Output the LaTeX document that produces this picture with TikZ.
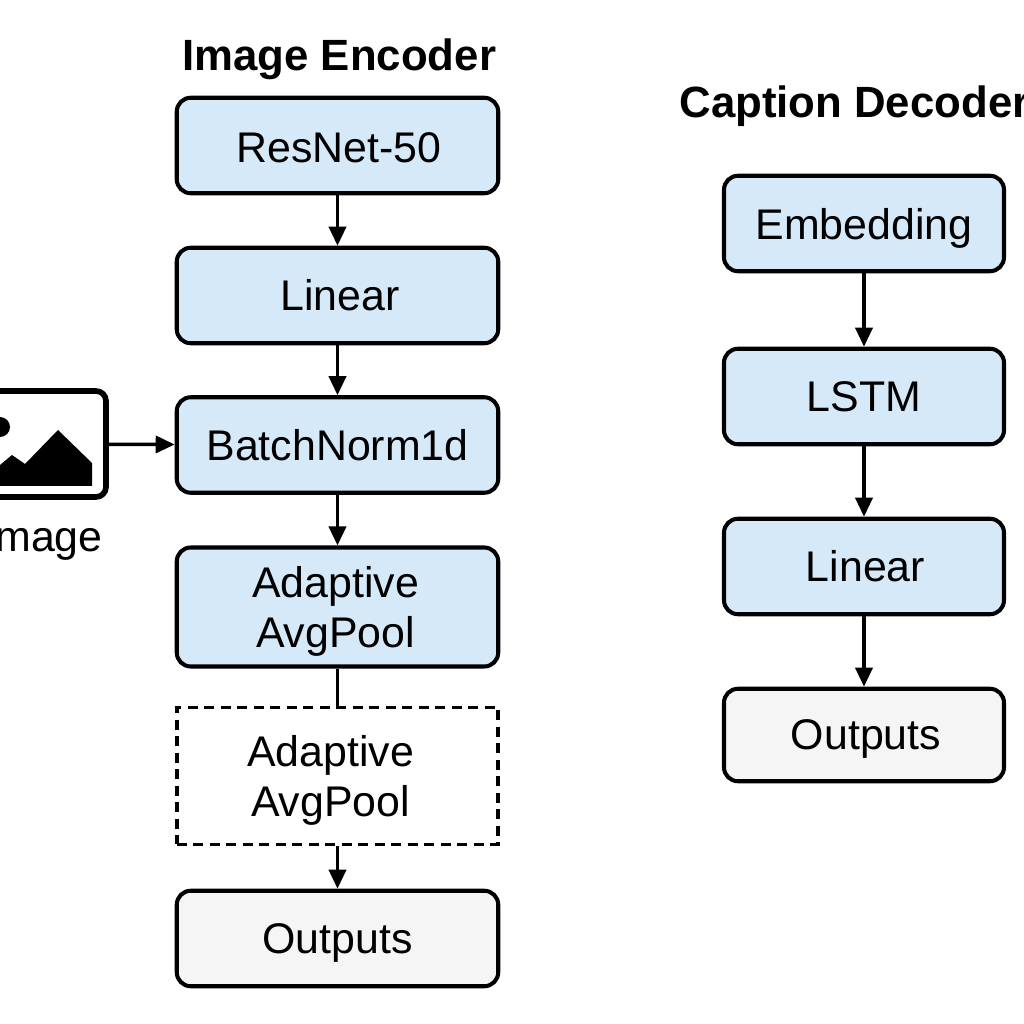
\documentclass[tikz,border=0pt]{standalone}
\usepackage{fontspec}
\setmainfont{Liberation Sans}
\usepackage{xcolor}
\usetikzlibrary{arrows.meta}

\definecolor{layerblue}{HTML}{D6E9F8}
\definecolor{outgray}{HTML}{F5F5F5}

\tikzset{
    layerbox/.style={draw=black, line width=1.15pt, rounded corners=0.14cm, fill=layerblue,
        minimum width=3.215cm, minimum height=0.955cm, align=center,
        font=\fontsize{12.2}{14.2}\selectfont},
    outbox/.style={layerbox, fill=outgray},
    dashbox/.style={layerbox, fill=white, rounded corners=0pt, line width=1.05pt, dash pattern=on 0.1cm off 0.065cm},
    flow/.style={draw=black, line width=1pt, -{Triangle[length=0.19cm,width=0.17cm]}},
    plainflow/.style={draw=black, line width=1pt},
    title/.style={font=\fontsize{12.45}{15}\selectfont\bfseries, anchor=base west}
}

\begin{document}
\begin{tikzpicture}
    \useasboundingbox (0,0) rectangle (10.24,10.24);
    \clip (0,0) rectangle (10.24,10.24);
    % Titles
    \node[title] (enctitle) at (1.70,9.53) {Image Encoder};
    \node[title] (dectitle) at (6.67,9.06) {Caption Decoder};
    % Image encoder
    \node[layerbox, text height=0.35cm] (resnet) at (3.375,8.785) {\hspace*{0.03cm}ResNet-50};
    \node[layerbox] (enclinear) at (3.375,7.285) {\hspace*{0.05cm}Linear};
    \node[layerbox] (batchnorm) at (3.375,5.79) {BatchNorm1d};
    \node[layerbox, minimum height=1.19cm, text depth=0pt] (avgpool) at (3.375,4.17) {\hspace*{-0.04cm}Adaptive\\\hspace*{-0.04cm}AvgPool};
    \node[dashbox, minimum height=1.37cm, text depth=0pt] (dashpool) at (3.375,2.48) {\hspace*{-0.14cm}Adaptive\\\hspace*{-0.14cm}AvgPool};
    \node[outbox, text depth=0pt] (encout) at (3.375,0.855) {Outputs};
    % Caption decoder
    \node[layerbox, minimum width=2.8cm, text depth=0pt] (embedding) at (8.64,8.005) {Embedding};
    \node[layerbox, minimum width=2.8cm] (lstm) at (8.64,6.275) {LSTM};
    \node[layerbox, minimum width=2.8cm] (declinear) at (8.64,4.575) {\hspace*{0.03cm}Linear};
    \node[outbox, minimum width=2.8cm, minimum height=0.925cm, text depth=0pt] (decout) at (8.64,2.89) {\hspace*{0.04cm}Outputs};
    % Input image icon
    \node[draw=black, line width=1.6pt, rounded corners=0.1cm, minimum width=2.06cm, minimum height=1.06cm] (icon) at (0.03,5.80) {};
    \fill[black] (0,5.59) -- (0.12,5.69) -- (0.25,5.60) -- (0.58,5.94) -- (0.92,5.61) -- (0.92,5.38) -- (0,5.38) -- cycle;
    \fill[black] (0,5.97) circle (0.1);
    \node[anchor=base east, font=\fontsize{12.2}{14.2}\selectfont] (imagelabel) at (1.15,4.72) {Image};
    % Connectors
    \draw[flow] (resnet) -- (enclinear);
    \draw[flow] (enclinear) -- (batchnorm);
    \draw[flow] (batchnorm) -- (avgpool);
    \draw[plainflow] (avgpool) -- (dashpool);
    \draw[flow] (dashpool) -- (encout);
    \draw[flow] (icon) -- (batchnorm);
    \draw[flow] (embedding) -- (lstm);
    \draw[flow] (lstm) -- (declinear);
    \draw[flow] (declinear) -- (decout);
\end{tikzpicture}
\end{document}
